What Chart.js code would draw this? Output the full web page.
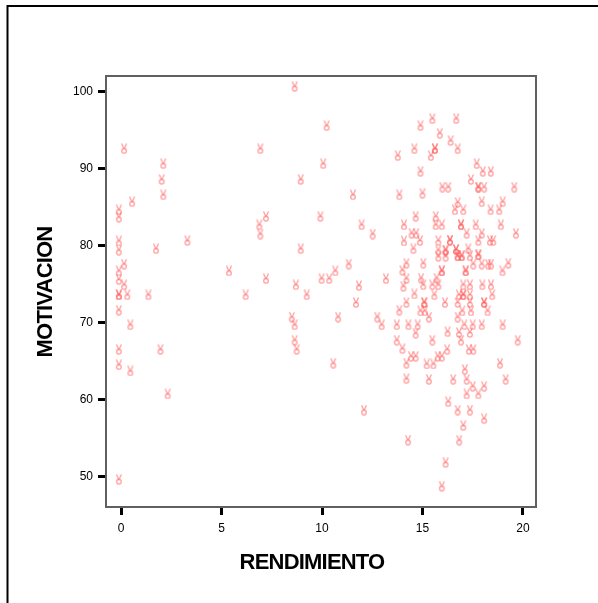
<!DOCTYPE html>
<html>
<head>
<meta charset="utf-8">
<script src="https://cdn.jsdelivr.net/npm/chart.js@4.4.0/dist/chart.umd.min.js"></script>
<style>
  html, body { margin: 0; padding: 0; background: #fff; }
  #wrap { width: 598px; height: 603px; }
</style>
</head>
<body>
<div id="wrap"><canvas id="chart" width="598" height="603"></canvas></div>
<script>
// RENDIMIENTO (x) and MOTIVACION (y)
const rendimiento = [
  8.64, 0.15, 6.93, 2.1, 2.02, 2.1, 0.55, -0.11, -0.11, 7.21, 6.88, 6.93, -0.11, -0.11, 1.74, 3.3,
  0.15, -0.11, 5.37, -0.11, 0.15, 7.21, 8.7, -0.11, -0.11, 0.31, 1.36, 6.2, -0.11, 0.46, 8.5, 8.64,
  8.64, 8.74, -0.11, 1.96, -0.11, 0.46, 2.32, -0.11,
  10.23, 13.77, 10.06, 8.94, 11.54, 13.85, 9.92, 11.97, 14.08, 12.52, 14.08, 8.94, 11.33, 10.66, 9.98, 10.36,
  11.84, 13.18, 9.24, 11.69, 13.85, 14.2, 10.8, 12.75, 12.97, 13.72, 14.3, 13.72, 14.0, 10.56, 14.2, 14.2,
  12.09, 14.28,
  15.49, 16.68, 14.9, 15.86, 16.4, 14.6, 15.62, 15.62, 16.75, 15.42, 17.7, 18.0, 18.4, 14.9, 17.41, 15.99,
  16.28, 17.78, 17.78, 18.07, 19.57, 15.0,
  16.75, 17.95, 18.99, 16.62, 17.03, 18.39, 18.82, 14.66, 15.66, 15.66, 15.96, 16.92, 16.92, 17.65, 18.9, 14.46,
  14.69, 17.2, 17.95, 19.65, 14.88, 15.79, 16.37, 16.37, 17.78, 18.36, 18.52, 14.55, 15.79, 16.15, 16.15, 16.67,
  16.67, 17.28, 17.78, 17.78, 15.79, 16.15, 16.75, 16.75, 16.95, 16.95, 17.36, 14.2, 15.04, 17.53, 17.95, 18.27,
  18.41, 19.27, 14.0, 15.96, 15.96, 17.15, 17.15, 18.98, 14.2, 14.93, 15.7,
  14.05, 15.04, 15.49, 15.79, 17.03, 17.36, 17.98, 18.41, 14.6, 15.59, 16.82, 17.03, 17.03, 17.36, 18.47, 15.09,
  15.09, 16.12, 16.75, 17.36, 18.07, 18.07, 14.9, 15.12, 16.98, 17.41, 18.24, 15.32, 16.75, 14.76, 17.08, 17.5,
  17.95, 18.99, 14.66, 16.25, 16.82, 17.36, 15.49, 16.92, 19.74, 16.23, 17.31, 17.53, 14.43, 14.66, 15.76, 15.96,
  15.21, 15.54, 18.86, 17.11,
  15.32, 16.53, 17.2, 19.14, 17.5, 18.07, 17.2, 17.78, 16.28, 16.75, 17.36, 18.07, 17.03, 16.83, 16.15, 15.96
];
const motivacion = [
  100.7, 92.6, 92.6, 90.65, 88.6, 86.6, 85.7, 84.65, 83.7, 83.8, 82.7, 81.5, 80.6, 79.4, 79.6, 80.65,
  77.6, 76.7, 76.7, 75.6, 74.9, 75.7, 74.9, 73.6, 73.6, 73.6, 73.6, 73.6, 71.6, 69.7, 70.7, 69.7,
  67.7, 66.5, 66.5, 66.5, 64.5, 63.7, 60.7, 49.6,
  95.6, 91.7, 90.65, 88.6, 86.6, 86.6, 83.8, 82.7, 82.7, 81.5, 80.6, 79.6, 77.6, 76.7, 75.7, 75.7,
  74.8, 75.7, 73.6, 72.6, 71.6, 72.6, 70.7, 70.7, 69.7, 69.7, 69.7, 67.7, 66.6, 64.7, 64.7, 62.7,
  58.6, 54.7,
  96.5, 96.5, 95.6, 94.6, 93.65, 92.6, 92.6, 92.6, 92.6, 91.7, 90.65, 89.65, 89.65, 89.65, 88.6, 87.6,
  87.6, 87.6, 87.6, 87.6, 87.6, 86.8,
  85.6, 85.7, 85.7, 84.65, 84.65, 84.65, 84.65, 83.8, 83.8, 82.7, 82.7, 82.7, 82.7, 82.7, 82.7, 81.6,
  81.6, 81.6, 81.6, 81.6, 80.65, 80.65, 80.7, 80.7, 80.65, 80.65, 80.65, 79.6, 79.4, 79.4, 79.4, 79.5,
  79.5, 79.6, 78.8, 78.8, 78.6, 78.6, 78.65, 78.65, 78.65, 78.65, 78.65, 77.7, 77.7, 77.6, 77.6, 77.6,
  77.6, 77.7, 76.8, 76.7, 76.7, 76.7, 76.7, 76.7, 75.7, 75.75, 75.75,
  74.7, 74.9, 74.9, 74.9, 74.9, 74.9, 74.9, 74.9, 73.7, 73.6, 73.6, 73.6, 73.6, 73.6, 73.6, 72.6,
  72.6, 72.6, 72.6, 72.6, 72.6, 72.6, 71.5, 71.5, 71.5, 71.5, 71.5, 70.7, 70.7, 69.7, 69.7, 69.7,
  69.7, 69.7, 68.6, 68.8, 68.7, 68.7, 67.7, 67.7, 67.7, 66.5, 66.5, 66.5, 65.6, 65.6, 65.6, 65.6,
  64.6, 64.6, 64.7, 63.9,
  62.6, 62.6, 62.6, 62.6, 61.7, 61.7, 60.7, 60.7, 59.7, 58.6, 58.6, 57.5, 56.6, 54.7, 51.8, 48.7
];
const xTicks = [0, 5, 10, 15, 20];
const yTicks = [50, 60, 70, 80, 90, 100];
const xTitle = 'RENDIMIENTO';
const yTitle = 'MOTIVACION';

// little pink marker like the one in the picture
const marker = document.createElement('canvas');
marker.width = 8;
marker.height = 11;
const mc = marker.getContext('2d');
mc.strokeStyle = 'rgba(255,80,80,0.55)';
mc.lineWidth = 1.3;
mc.beginPath();
mc.moveTo(1.5, 0.5); mc.lineTo(3.8, 5.5);
mc.moveTo(6.5, 0.5); mc.lineTo(4.2, 5.5);
mc.stroke();
mc.beginPath();
mc.arc(4, 7.8, 2.3, 0, Math.PI * 2);
mc.stroke();

// outer frame, plot frame and the two axis titles
const frames = {
  id: 'frames',
  afterDraw(chart) {
    const ctx = chart.ctx;
    const a = chart.chartArea;
    ctx.save();
    ctx.strokeStyle = '#000';
    ctx.lineWidth = 2;
    ctx.beginPath();
    ctx.moveTo(7.5, 603);
    ctx.lineTo(7.5, 6);
    ctx.lineTo(598, 6);
    ctx.stroke();
    ctx.strokeStyle = '#606060';
    ctx.lineWidth = 2;
    ctx.strokeRect(a.left, a.top, a.right - a.left, a.bottom - a.top);

    ctx.fillStyle = '#000';
    ctx.font = 'bold 22px "Liberation Sans", Arial, sans-serif';
    ctx.letterSpacing = '-0.8px';
    ctx.textAlign = 'center';
    ctx.textBaseline = 'middle';
    ctx.fillText(xTitle, 312, 563);
    ctx.translate(46, 292);
    ctx.rotate(-Math.PI / 2);
    ctx.fillText(yTitle, 0, 0);
    ctx.restore();
  }
};

const points = rendimiento.map((x, i) => ({ x: x, y: motivacion[i] }));

new Chart(document.getElementById('chart'), {
  type: 'scatter',
  data: {
    datasets: [{
      data: points,
      pointStyle: marker,
      pointRadius: 5
    }]
  },
  plugins: [frames],
  options: {
    responsive: false,
    animation: false,
    events: [],
    layout: { padding: { left: 0, top: 76, right: 62, bottom: 0 } },
    plugins: {
      legend: { display: false },
      tooltip: { enabled: false }
    },
    scales: {
      x: {
        type: 'linear',
        min: -0.75,
        max: 20.65,
        afterBuildTicks: s => { s.ticks = xTicks.map(v => ({ value: v })); },
        afterFit: s => { s.height = 96; },
        border: { display: false },
        grid: { drawOnChartArea: false, drawTicks: true, tickLength: 8, tickWidth: 3, tickColor: '#000' },
        ticks: { color: '#000', padding: 6, font: { family: 'Liberation Sans', size: 12 } }
      },
      y: {
        type: 'linear',
        min: 46,
        max: 102.05,
        afterBuildTicks: s => { s.ticks = yTicks.map(v => ({ value: v })); },
        afterFit: s => { s.width = 106; },
        border: { display: false },
        grid: { drawOnChartArea: false, drawTicks: true, tickLength: 8, tickWidth: 3, tickColor: '#000' },
        ticks: { color: '#000', padding: 5, font: { family: 'Liberation Sans', size: 12 } }
      }
    }
  }
});
</script>
</body>
</html>
